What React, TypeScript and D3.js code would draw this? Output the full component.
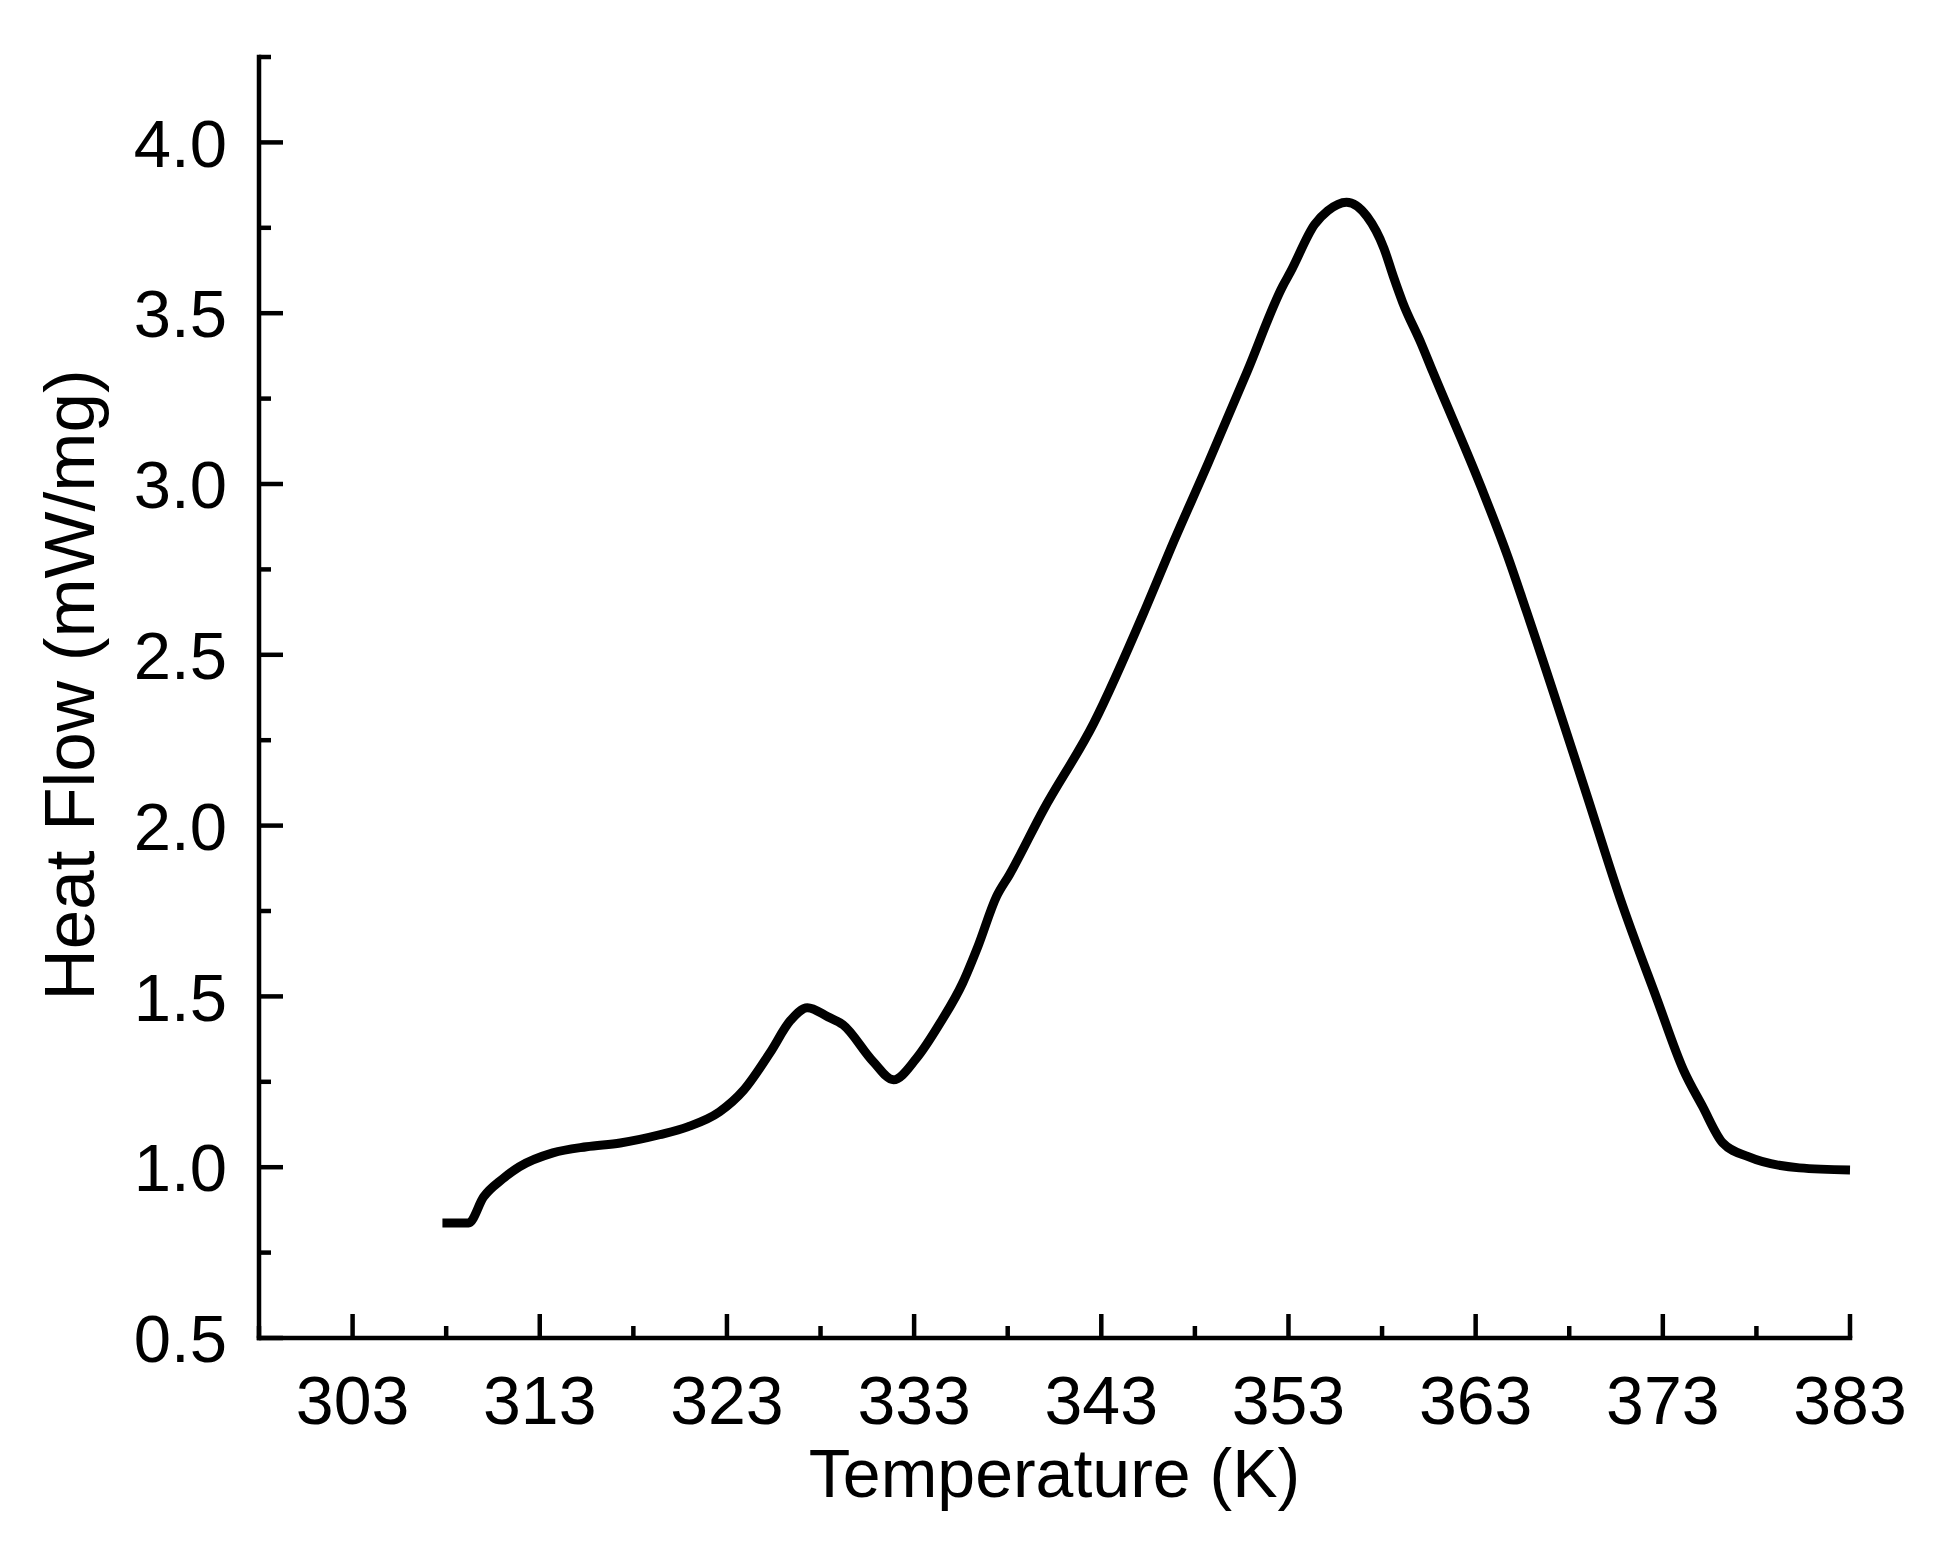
import React from "react";
import * as d3 from "d3";

const temperature = [
  307.8, 309.2, 310.0, 311.0, 311.9, 313.7, 315.5, 317.3, 319.4, 320.9,
  322.6, 323.9, 325.3, 326.4, 327.3, 328.4, 329.2, 330.8, 331.9, 333.1,
  334.4, 335.6, 336.4, 337.4, 338.1, 339.9, 342.6, 345.4, 346.7,
  348.7, 350.8, 352.7, 353.1, 354.4, 355.1, 356.1, 357.2, 358.1, 358.6,
  359.1, 360.1, 360.7, 363.3, 364.7, 365.7, 368.9, 370.7, 372.7, 374.1,
  375.1, 376.2, 377.6, 380.3, 383.0,
];
const heatFlow = [
  0.837, 0.837, 0.913, 0.965, 1.001, 1.042, 1.06, 1.071, 1.095, 1.118,
  1.162, 1.226, 1.335, 1.43, 1.467, 1.44, 1.417, 1.31, 1.256, 1.317,
  1.423, 1.54, 1.645, 1.792, 1.857, 2.045, 2.30, 2.64, 2.81,
  3.06, 3.33, 3.58, 3.62, 3.76, 3.8, 3.825, 3.783, 3.69, 3.608,
  3.532, 3.41, 3.33, 2.99, 2.79, 2.63, 2.096, 1.79, 1.49, 1.285,
  1.18, 1.071, 1.03, 0.998, 0.992,
];
const xMajorTicks = [303, 313, 323, 333, 343, 353, 363, 373, 383];
const xMinorTicks = [298, 308, 318, 328, 338, 348, 358, 368, 378];
const yMajorTicks = [0.5, 1.0, 1.5, 2.0, 2.5, 3.0, 3.5, 4.0];
const yMinorTicks = [0.75, 1.25, 1.75, 2.25, 2.75, 3.25, 3.75, 4.25];
const xLabel = "Temperature (K)";
const yLabel = "Heat Flow (mW/mg)";

const W = 1954;
const H = 1546;
const left = 259, right = 1850, top = 57, bottom = 1338;
const font = "'Liberation Sans', Arial, Helvetica, sans-serif";

export default function App() {
  const x = d3.scaleLinear().domain([298, 383]).range([left, right]);
  const y = d3.scaleLinear().domain([0.5, 4.25]).range([bottom, top]);
  const data = temperature.map((t, i) => [t, heatFlow[i]] as [number, number]);
  const line = d3
    .line<[number, number]>()
    .x((d) => x(d[0]))
    .y((d) => y(d[1]))
    .curve(d3.curveMonotoneX);

  const majorLen = 24;
  const minorLen = 12;
  const axisW = 4.5;

  return (
    <svg
      width={W}
      height={H}
      style={{ position: "absolute", left: 0, top: 0, background: "#fff" }}
      fontFamily={font}
    >
      <rect x={0} y={0} width={W} height={H} fill="#fff" />
      {yMajorTicks.map((v) => (
        <line key={"ym" + v} x1={left} x2={left + majorLen} y1={y(v)} y2={y(v)} stroke="#000" strokeWidth={axisW} />
      ))}
      {yMinorTicks.map((v) => (
        <line key={"yn" + v} x1={left} x2={left + minorLen} y1={y(v)} y2={y(v)} stroke="#000" strokeWidth={axisW} />
      ))}
      {yMajorTicks.map((v) => (
        <text key={"yl" + v} x={left - 32} y={y(v)} dy="0.36em" textAnchor="end" fontSize={67} fill="#000">
          {v.toFixed(1)}
        </text>
      ))}
      {xMajorTicks.map((v) => (
        <line key={"xm" + v} x1={x(v)} x2={x(v)} y1={bottom} y2={bottom - majorLen} stroke="#000" strokeWidth={axisW} />
      ))}
      {xMinorTicks.map((v) => (
        <line key={"xn" + v} x1={x(v)} x2={x(v)} y1={bottom} y2={bottom - minorLen} stroke="#000" strokeWidth={axisW} />
      ))}
      {xMajorTicks.map((v) => (
        <text key={"xl" + v} x={x(v)} y={1424} textAnchor="middle" fontSize={68} fill="#000">
          {v}
        </text>
      ))}
      <line x1={left} x2={left} y1={top} y2={bottom} stroke="#000" strokeWidth={axisW} strokeLinecap="square" />
      <line x1={left} x2={right} y1={bottom} y2={bottom} stroke="#000" strokeWidth={axisW} strokeLinecap="square" />
      <path d={line(data) || ""} fill="none" stroke="#000" strokeWidth={9} strokeLinejoin="round" strokeLinecap="butt" />
      <text x={(left + right) / 2} y={1497} textAnchor="middle" fontSize={68} fill="#000">
        {xLabel}
      </text>
      <text
        transform={`translate(94, 685) rotate(-90)`}
        textAnchor="middle"
        fontSize={71}
        fill="#000"
      >
        {yLabel}
      </text>
    </svg>
  );
}
